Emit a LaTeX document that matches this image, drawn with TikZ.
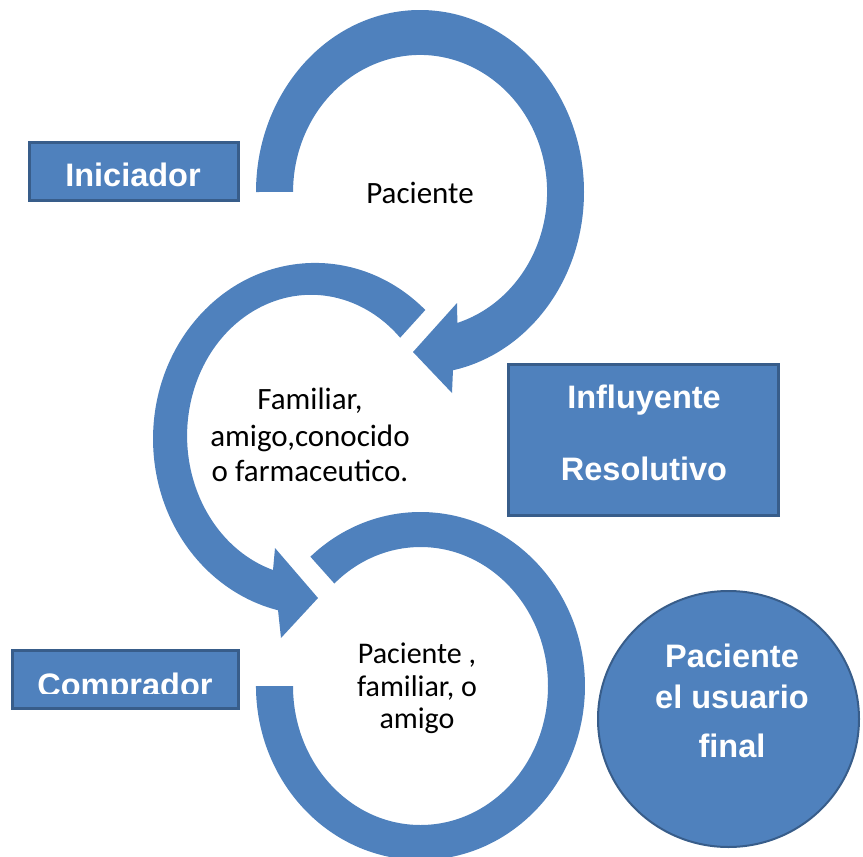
\documentclass[tikz,border=0pt]{standalone}
\usepackage{fontspec}
\setmainfont{Carlito}
\newfontfamily\boxfont{Liberation Sans}
\usetikzlibrary{shapes.geometric}
\definecolor{ablue}{HTML}{4F81BD}
\definecolor{dblue}{HTML}{385D8A}
\begin{document}
\begin{tikzpicture}[x=1pt,y=-1pt,
  arrowshape/.style={fill=ablue,draw=none},
  rolebox/.style={draw=dblue,line width=3pt,fill=ablue,inner sep=0pt},
  roletext/.style={font=\boxfont\bfseries\fontsize{32.5}{39}\selectfont,text=white,anchor=base,inner sep=0pt},
  lbl/.style={font=\fontsize{31}{37}\selectfont,text=black,anchor=base,inner sep=0pt},
  lblb/.style={font=\fontsize{30}{36}\selectfont,text=black,anchor=base,inner sep=0pt}]
\useasboundingbox (0,0) rectangle (863,857);
% role boxes
\node[rolebox,minimum width=209pt,minimum height=58pt] (ini) at (134,171.5) {};
\node[rolebox,minimum width=270pt,minimum height=151pt] (inf) at (643.5,440) {};
\node[rolebox,minimum width=226pt,minimum height=58pt] (comp) at (125.5,679.5) {};
% circular arrows
\fill[arrowshape] (256,192) arc[start angle=180,end angle=438.4,x radius=164,y radius=182]
  -- (452,393) -- (413,352) -- (457,303) -- (457.4,322.9)
  arc[start angle=432.9,end angle=180,x radius=127,y radius=137] -- cycle;
\fill[arrowshape] (425.3,310) arc[start angle=312.9,end angle=103.2,x radius=162,y radius=176]
  -- (281,638) -- (318,598) -- (275,548) -- (273,570)
  arc[start angle=107.9,end angle=315.9,x radius=124,y radius=141] -- cycle;
\fill[arrowshape] (310.4,556.7) arc[start angle=228,end angle=540,x radius=164.5,y radius=174]
  -- (293,686) arc[start angle=540,end angle=227.5,x radius=127.5,y radius=139] -- cycle;
% final user circle
\node[ellipse,draw=dblue,line width=2pt,fill=ablue,minimum width=261pt,minimum height=256pt,inner sep=0pt] (fin) at (728.5,719) {};
% texts in boxes
\node[roletext] (ini-t) at (133,186) {Iniciador};
\node[roletext] (inf-t1) at (644,408) {Influyente};
\node[roletext] (inf-t2) at (644,480) {Resolutivo};
\begin{scope}
\clip (0,0) rectangle (863,693);
\node[roletext] (comp-t) at (125,696) {Comprador};
\end{scope}
\node[roletext] (fin-t1) at (732,667) {Paciente};
\node[roletext] (fin-t2) at (732,708) {el usuario};
\node[roletext] (fin-t3) at (732,757) {final};
% texts in circles
\node[lbl] (c1) at (420,203) {Paciente};
\node[lbl] (c2a) at (310,409) {Familiar,};
\node[lbl] (c2b) at (310,446) {amigo,conocido};
\node[lbl] (c2c) at (310,481) {o farmaceutico.};
\node[lblb] (c3a) at (417,663) {Paciente ,};
\node[lblb] (c3b) at (417,696) {familiar, o};
\node[lblb] (c3c) at (417,728) {amigo};
\end{tikzpicture}
\end{document}
